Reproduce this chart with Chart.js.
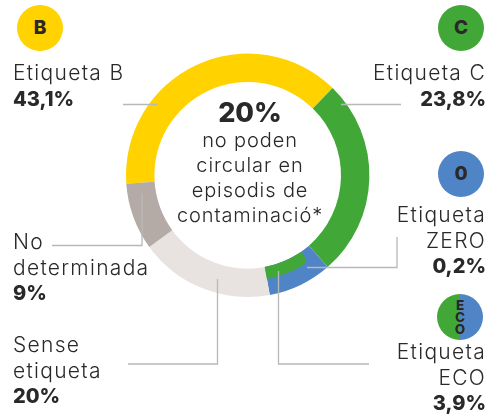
<!DOCTYPE html>
<html lang="ca">
<head>
<meta charset="UTF-8">
<title>Etiquetes</title>
<script src="https://cdn.jsdelivr.net/npm/chart.js"></script>
<style>
  html, body { margin: 0; padding: 0; background: #fff; }
  #stage { position: relative; width: 489px; height: 414px; overflow: hidden; font-family: Inter, sans-serif; color: #2b2829; }
  #stage canvas, #stage svg { position: absolute; left: 0; top: 0; }
  .txt { position: absolute; font-size: 21px; font-weight: 300; letter-spacing: 1.3px; line-height: 25.7px; white-space: nowrap; }
  .txt b { font-size: 20px; font-weight: 800; letter-spacing: 0; }
  .r { text-align: right; right: 3px; }
  .c { text-align: center; left: 150px; width: 200px; font-size: 20px; letter-spacing: 0.9px; line-height: 25px; }
  .badge { position: absolute; width: 46px; height: 46px; border-radius: 50%; font-weight: 800; font-size: 19px; line-height: 46px; text-align: center; }
</style>
</head>
<body>
<div id="stage">
  <canvas id="ringChart" width="489" height="414"></canvas>
  <canvas id="stripChart" width="489" height="414"></canvas>

  <svg width="489" height="414" fill="none" stroke="#b8b8b8" stroke-width="1.3">
    <path d="M123 104.5H158"/>
    <path d="M341 104.5H401"/>
    <path d="M397 237V267.5H307"/>
    <path d="M278.5 271V364H369"/>
    <path d="M217.5 279V364H128"/>
    <path d="M142 193V245.5H52"/>
  </svg>

  <div class="badge" style="left:17px;top:5px;background:#ffd200">B</div>
  <div class="badge" style="left:438px;top:5px;background:#41a838">C</div>
  <div class="badge" style="left:438px;top:151px;background:#4f85c6">0</div>
  <div class="badge" style="left:437px;top:294px;background:linear-gradient(90deg,#41a838 50%,#4f85c6 50%);font-size:13.5px;line-height:12px;padding-top:5px;height:41px">E<br>C<br>O</div>

  <div class="txt" style="left:13px;top:60px">Etiqueta B<br><b>43,1%</b></div>
  <div class="txt r" style="top:60px">Etiqueta C<br><b>23,8%</b></div>
  <div class="txt r" style="top:202px">Etiqueta<br>ZERO<br><b>0,2%</b></div>
  <div class="txt r" style="top:339px">Etiqueta<br>ECO<br><b>3,9%</b></div>
  <div class="txt" style="left:13px;top:229px">No<br>determinada<br><b>9%</b></div>
  <div class="txt" style="left:13px;top:332px">Sense<br>etiqueta<br><b>20%</b></div>
  <div class="txt c" style="top:97px;line-height:32px"><b style="font-size:27px">20%</b></div>
  <div class="txt c" style="top:128px">no poden<br>circular en<br>episodis de<br>contaminació*</div>
</div>
<script>
// arc shares as drawn, in percent of the ring
const categories = ['Etiqueta B', 'Etiqueta C', 'Etiqueta ZERO', 'Sense etiqueta', 'No determinada'];
const shares = [38.4, 26.3, 8.5, 17.9, 8.9];
const colors = ['#ffd200', '#41a838', '#4f85c6', '#e8e3e1', '#b5aba6'];

// green strip laid over the inside of the blue arc (Etiqueta ECO)
const stripLabels = ['before', 'Etiqueta ECO', 'after'];
const stripShares = [66.4, 6.8, 26.8];

const startAngle = 266;
const layoutPadding = { left: 125.7, right: 119.3, top: 53.3, bottom: 116.7 };

new Chart(document.getElementById('ringChart'), {
    type: 'doughnut',
    data: {
        labels: categories,
        datasets: [{ data: shares, backgroundColor: colors, borderWidth: 0 }]
    },
    options: {
        responsive: false,
        animation: false,
        rotation: startAngle,
        cutout: '76.66%',
        radius: 121.7,
        layout: { padding: layoutPadding },
        plugins: { legend: { display: false }, tooltip: { enabled: false } }
    }
});

// cutout is relative to the radius, so this one keeps the same inner edge
new Chart(document.getElementById('stripChart'), {
    type: 'doughnut',
    data: {
        labels: stripLabels,
        datasets: [{
            data: stripShares,
            backgroundColor: ['transparent', '#41a838', 'transparent'],
            borderWidth: 0,
            borderRadius: [0, { outerStart: 5, outerEnd: 0, innerStart: 0, innerEnd: 0 }, 0]
        }]
    },
    options: {
        responsive: false,
        animation: false,
        rotation: startAngle,
        cutout: '88.44%',
        radius: 105.5,
        layout: { padding: layoutPadding },
        plugins: { legend: { display: false }, tooltip: { enabled: false } }
    }
});
</script>
</body>
</html>
